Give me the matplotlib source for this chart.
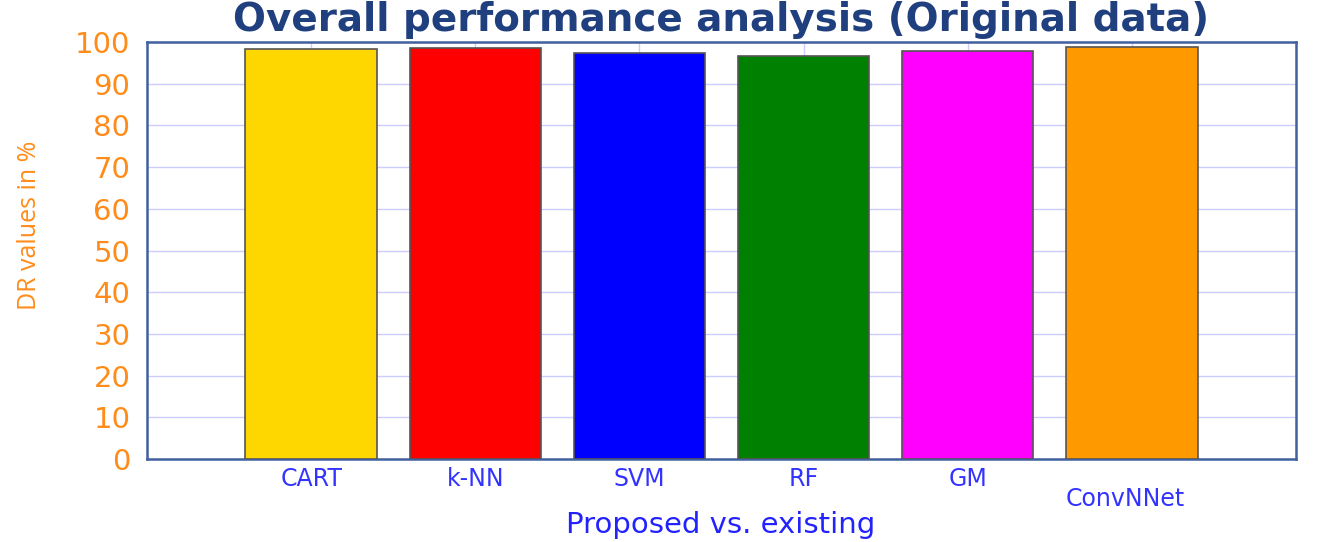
import matplotlib
matplotlib.use("Agg")
import matplotlib.pyplot as plt

categories = ["CART", "k-NN", "SVM", "RF", "GM", "ConvNNet"]
values = [98.3, 98.6, 97.4, 96.7, 97.8, 98.9]
colors = ["#FFD700", "#FF0000", "#0000FF", "#008000", "#FF00FF", "#FF9900"]
yticks = [0, 10, 20, 30, 40, 50, 60, 70, 80, 90, 100]

fig = plt.figure(figsize=(13.21, 5.42), dpi=100)
ax = fig.add_axes([147/1321, 83/542, (1296-147)/1321, (459-42)/542])

x = list(range(len(categories)))
ax.bar(x, values, width=0.8, color=colors, edgecolor="#555555", linewidth=1.2, zorder=3)

ax.set_xlim(-1, 6)
ax.set_ylim(0, 100)
ax.set_yticks(yticks)
ax.set_yticklabels([str(t) for t in yticks])
ax.tick_params(axis="y", length=0, pad=12, labelsize=21, labelcolor="#FF8C1A")
ax.set_xticks(x)
ax.set_xticklabels([c if c != "ConvNNet" else "" for c in categories])
ax.tick_params(axis="x", length=0, pad=6, labelsize=17, labelcolor="#3333FF")
# staggered last label
ax.annotate(categories[-1], xy=(x[-1], 0), xycoords=("data", "axes fraction"),
            xytext=(-5, -20), textcoords="offset points", ha="center", va="top",
            fontsize=17, color="#3333FF")

ax.grid(True, color="#CCCCFF", linewidth=1, zorder=0)
ax.set_axisbelow(True)
for s in ax.spines.values():
    s.set_color("#4060A0")
    s.set_linewidth(1.8)

fig.text(721/1321, 1 - 525/542, "Proposed vs. existing", ha="center", va="center",
         fontsize=21, color="#2222FF")
fig.text(30/1321, 1 - 225/542, "DR values in %", ha="center", va="center",
         rotation=90, fontsize=18, color="#FF8C1A", family="Open Sans")

fig.text(721/1321, 1 - 20/542, "Overall performance analysis (Original data)",
         ha="center", va="center", fontsize=28, fontweight="bold", color="#1F3F7F")

fig.savefig("out.png", dpi=100)
